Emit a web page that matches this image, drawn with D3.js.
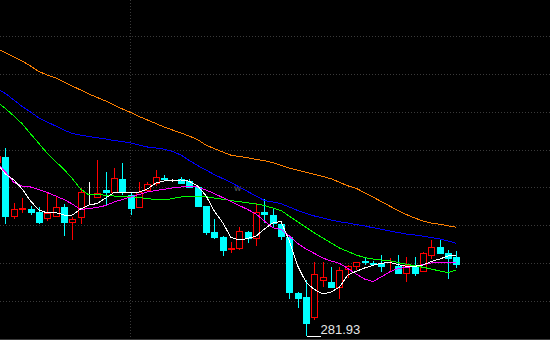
<!DOCTYPE html>
<html>
<head>
<meta charset="utf-8">
<script src="https://cdn.jsdelivr.net/npm/d3@7/dist/d3.min.js"></script>
<style>
  html, body { margin: 0; padding: 0; background: #000; }
  svg { display: block; }
</style>
</head>
<body>
<div id="chart"></div>
<script>
// K-line + moving averages
const DAYS = d3.range(-1, 55); // -1 = partly cut-off first candle

// [open, high, low, close]
const OHLC = [
  [299.33, 300.13, 299.03, 299.93],
  [299.83, 300.73, 293.13, 293.93],
  [293.93, 295.23, 293.63, 294.63],
  [294.67, 295.73, 294.23, 294.71],
  [294.63, 294.93, 294.03, 294.33],
  [294.33, 294.83, 293.13, 293.33],
  [293.73, 296.33, 293.43, 294.23],
  [293.93, 295.93, 293.83, 294.83],
  [294.83, 295.13, 291.93, 293.33],
  [293.33, 293.83, 291.53, 293.63],
  [293.83, 296.73, 293.13, 296.33],
  [296.23, 297.38, 295.13, 296.23],
  [295.83, 299.53, 295.73, 296.23],
  [296.48, 298.33, 295.03, 296.38],
  [296.33, 298.73, 296.23, 297.73],
  [297.63, 299.23, 296.03, 296.43],
  [296.03, 296.33, 294.03, 294.73],
  [294.83, 297.33, 294.73, 296.33],
  [296.58, 297.33, 296.33, 297.13],
  [297.20, 298.53, 296.93, 297.80],
  [297.78, 298.03, 297.43, 297.68],
  [297.48, 297.68, 297.33, 297.48],
  [297.60, 297.83, 297.13, 297.26],
  [297.43, 297.63, 296.73, 296.86],
  [296.86, 296.93, 294.93, 294.96],
  [294.93, 294.96, 292.08, 292.36],
  [292.36, 293.63, 291.63, 291.86],
  [291.86, 291.93, 289.96, 290.53],
  [290.67, 291.33, 290.23, 290.71],
  [290.70, 292.83, 290.53, 292.43],
  [292.36, 292.43, 291.26, 291.76],
  [291.70, 295.20, 290.93, 294.36],
  [294.36, 295.60, 293.23, 294.13],
  [294.03, 294.70, 292.86, 293.20],
  [293.10, 293.43, 291.53, 291.93],
  [291.86, 291.93, 285.66, 286.33],
  [286.28, 286.33, 284.70, 285.68],
  [285.80, 287.53, 281.93, 283.20],
  [283.88, 289.36, 283.48, 288.13],
  [287.53, 289.33, 286.83, 287.83],
  [287.33, 288.80, 286.83, 286.86],
  [286.83, 288.83, 285.66, 288.53],
  [288.60, 289.03, 287.76, 288.90],
  [288.93, 289.38, 288.53, 289.30],
  [289.40, 289.88, 288.98, 289.33],
  [289.28, 289.43, 289.03, 289.13],
  [289.23, 290.03, 288.36, 288.93],
  [289.11, 289.68, 288.43, 289.13],
  [288.93, 290.03, 288.13, 288.28],
  [288.26, 289.83, 287.36, 289.08],
  [288.91, 289.86, 287.93, 288.20],
  [288.46, 290.33, 288.33, 290.20],
  [290.03, 291.53, 289.63, 290.83],
  [290.83, 291.53, 290.13, 290.26],
  [290.20, 290.53, 287.63, 289.78],
  [289.83, 290.43, 288.70, 289.13]
];

const MA5 = [299.13, 298.13, 297.53, 296.63, 295.43, 294.53, 294.23, 294.28, 294.03, 294.03,
  294.63, 295.03, 295.18, 295.73, 296.28, 296.28, 296.23, 296.33, 296.63, 297.23,
  297.43, 297.50, 297.53, 297.41, 296.93, 295.98, 294.43, 293.28, 291.78, 291.53,
  291.68, 291.91, 292.63, 293.23, 293.38, 291.43, 288.93, 287.28, 286.58, 286.13,
  286.33, 286.83, 288.03, 288.40, 288.73, 289.00, 289.20, 289.28, 289.08, 288.90,
  288.90, 289.03, 289.38, 289.63, 289.93, 289.96];

const MA10 = [299.23, 298.33, 297.28, 296.93, 296.83, 296.58, 296.28, 295.93, 295.58, 295.13,
  294.58, 294.68, 294.78, 294.98, 295.33, 295.58, 295.83, 296.08, 296.33, 296.48,
  296.60, 296.73, 296.83, 296.91, 296.83, 296.53, 296.18, 295.78, 295.38, 294.98,
  294.58, 294.13, 293.43, 292.76, 292.58, 291.93, 291.18, 290.63, 290.18, 289.73,
  289.43, 289.20, 288.68, 288.13, 287.63, 287.38, 287.83, 288.33, 288.68, 288.78,
  288.90, 289.08, 289.23, 289.28, 289.30, 289.30];

const MA20 = [305.33, 304.68, 303.93, 303.15, 302.15, 301.18, 300.20, 299.38, 298.60, 297.67,
  296.63, 296.03, 296.08, 296.00, 295.93, 295.90, 295.86, 295.77, 295.68, 295.55,
  295.53, 295.68, 295.83, 295.93, 295.93, 295.86, 295.73, 295.60, 295.48, 295.36,
  295.25, 295.13, 294.98, 294.73, 294.48, 293.91, 293.35, 292.78, 292.23, 291.73,
  291.23, 290.73, 290.38, 290.03, 289.78, 289.63, 289.53, 289.46, 289.28, 289.10,
  288.96, 288.80, 288.63, 288.43, 288.28, 288.53];

const MA60 = [306.63, 306.18, 305.53, 304.88, 304.33, 303.73, 303.33, 302.93, 302.53, 302.18,
  302.01, 301.88, 301.75, 301.63, 301.48, 301.37, 301.23, 301.03, 300.83, 300.73,
  300.61, 300.38, 300.03, 299.48, 298.98, 298.53, 298.08, 297.68, 297.28, 296.83,
  296.38, 295.93, 295.48, 295.33, 295.16, 294.83, 294.48, 294.18, 293.93, 293.73,
  293.53, 293.36, 293.23, 293.08, 292.93, 292.76, 292.61, 292.43, 292.28, 292.13,
  292.03, 291.91, 291.78, 291.63, 291.43, 291.20];

const MA120 = [310.63, 310.26, 309.83, 309.43, 308.93, 308.38, 308.03, 307.73, 307.33, 306.93,
  306.53, 306.13, 305.78, 305.43, 305.03, 304.63, 304.28, 303.88, 303.53, 303.18,
  302.83, 302.53, 302.23, 301.93, 301.58, 301.02, 300.67, 300.33, 300.01, 299.88,
  299.75, 299.60, 299.46, 299.27, 298.99, 298.72, 298.51, 298.30, 298.09, 297.88,
  297.65, 297.30, 296.95, 296.70, 296.26, 295.83, 295.38, 294.93, 294.48, 294.08,
  293.73, 293.43, 293.23, 293.10, 292.95, 292.80];

const MA_LINES = [
  { name: "MA120", values: MA120, color: "#ff8000" },
  { name: "MA60",  values: MA60,  color: "#0000ff" },
  { name: "MA20",  values: MA20,  color: "#00ff00" },
  { name: "MA10",  values: MA10,  color: "#ff00ff" },
  { name: "MA5",   values: MA5,   color: "#ffffff" }
];

const PRICE_LOW = 281.63, PRICE_HIGH = 315.73;
const GRID_ROWS = 9;
const MONTH_BREAK = 15;   // dotted vertical separator
const LOW_LABEL = "281.93";

const UP = "#ff0000", DOWN = "#00ffff", FLAT = "#ffffff";

const width = 550, height = 340;
const svg = d3.select("#chart").append("svg")
  .attr("width", width).attr("height", height)
  .style("background", "#000");

const x = d3.scaleBand().domain(DAYS).range([-7.03, 460.57]).paddingInner(0.2).paddingOuter(0.1);
const y = d3.scaleLinear().domain([PRICE_LOW, PRICE_HIGH]).range([339, -2]);
const cx = d => x(d) + x.bandwidth() / 2;
const px = v => Math.round(v) + 0.5;

// grid
const gridVals = d3.range(1, GRID_ROWS).map(k => PRICE_LOW + k * (PRICE_HIGH - PRICE_LOW) / GRID_ROWS);
svg.append("g").selectAll("line").data(gridVals).join("line")
  .attr("x1", 0).attr("x2", width)
  .attr("y1", d => px(y(d))).attr("y2", d => px(y(d)))
  .attr("stroke", "#3a3a3a").attr("stroke-dasharray", "1,2").attr("shape-rendering", "crispEdges");
svg.append("line")
  .attr("x1", px(cx(MONTH_BREAK)) - 1).attr("x2", px(cx(MONTH_BREAK)) - 1)
  .attr("y1", 0).attr("y2", height)
  .attr("stroke", "#3a3a3a").attr("stroke-dasharray", "1,2").attr("shape-rendering", "crispEdges");
svg.append("line")
  .attr("x1", 0).attr("x2", width).attr("y1", px(y(PRICE_LOW))).attr("y2", px(y(PRICE_LOW)))
  .attr("stroke", "#3c3c3c").attr("shape-rendering", "crispEdges");

// faint watermark
svg.append("text").attr("x", 234).attr("y", 191)
  .attr("font-family", "DejaVu Sans, sans-serif").attr("font-size", 9)
  .attr("fill", "#5a5a5a").text("w");

// candles
const candles = DAYS.map((d, i) => ({ day: d, o: OHLC[i][0], h: OHLC[i][1], l: OHLC[i][2], c: OHLC[i][3] }));
const colorOf = k => k.c > k.o ? UP : (k.c < k.o ? DOWN : FLAT);

const cg = svg.append("g").attr("shape-rendering", "crispEdges");
const bodyHalf = 3;

cg.selectAll("line.wick").data(candles).join("line").attr("class", "wick")
  .attr("x1", k => px(cx(k.day))).attr("x2", k => px(cx(k.day)))
  .attr("y1", k => Math.round(y(k.h))).attr("y2", k => Math.round(y(k.l)))
  .attr("stroke", colorOf);

cg.selectAll("rect.body").data(candles).join("rect").attr("class", "body")
  .attr("x", k => Math.round(cx(k.day)) - bodyHalf + 0.5)
  .attr("y", k => Math.round(y(Math.max(k.o, k.c))) + 0.5)
  .attr("width", bodyHalf * 2)
  .attr("height", k => Math.max(0, Math.round(y(Math.min(k.o, k.c))) - Math.round(y(Math.max(k.o, k.c)))))
  .attr("fill", k => k.c > k.o ? "#000" : colorOf(k))
  .attr("stroke", colorOf);

// moving averages
const line = d3.line().x((v, i) => cx(DAYS[i])).y(v => y(v));
svg.append("g").selectAll("path").data(MA_LINES).join("path")
  .attr("d", m => line(m.values))
  .attr("fill", "none").attr("stroke", m => m.color).attr("stroke-width", 1)
  .attr("shape-rendering", "crispEdges");

// lowest point marker
const lowK = candles.reduce((a, b) => b.l < a.l ? b : a);
const lx = px(cx(lowK.day)), ly = Math.round(y(lowK.l)) + 0.5;
svg.append("line").attr("x1", lx).attr("x2", lx + 14).attr("y1", ly).attr("y2", ly)
  .attr("stroke", "#fff").attr("shape-rendering", "crispEdges");
svg.append("text").attr("x", lx + 14).attr("y", ly - 3)
  .attr("font-family", "Liberation Sans, Arial, sans-serif").attr("font-size", 13)
  .attr("fill", "#e6e6e6").text(LOW_LABEL);
</script>
</body>
</html>
